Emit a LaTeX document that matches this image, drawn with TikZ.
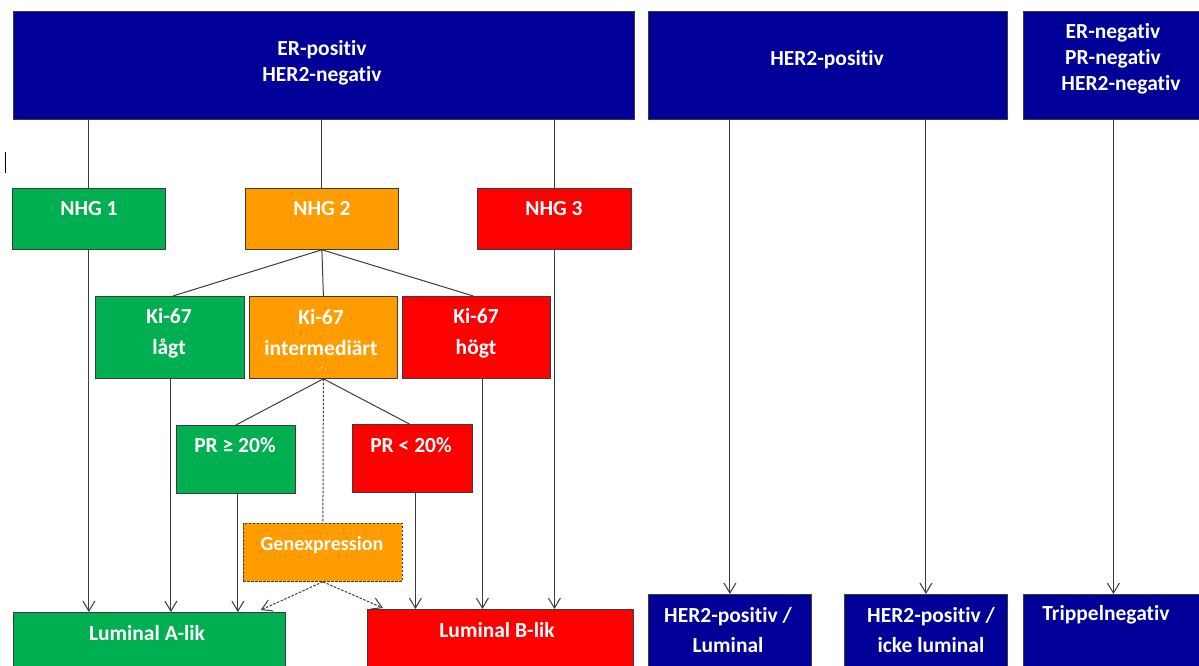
\documentclass[tikz,border=0pt]{standalone}
\usepackage{fontspec}
\setmainfont{Carlito}[Ligatures=NoCommon]
\usetikzlibrary{arrows.meta}
\definecolor{navy}{RGB}{0,0,153}
\definecolor{grn}{RGB}{0,176,80}
\definecolor{orng}{RGB}{255,156,0}
\definecolor{rd}{RGB}{255,0,0}
\definecolor{edge}{RGB}{60,60,60}
\begin{document}
\begin{tikzpicture}[x=1pt,y=-1pt,
  box/.style={draw=edge, line width=0.8pt, rectangle, inner sep=0pt, anchor=north west},
  navybox/.style={box, fill=navy},
  grnbox/.style={box, fill=grn},
  orngbox/.style={box, fill=orng},
  rdbox/.style={box, fill=rd},
  txt/.style={text=white, font=\bfseries\fontsize{21.5}{26}\selectfont, align=center, inner sep=0pt},
  kitxt/.style={txt, font=\bfseries\fontsize{21.5}{31}\selectfont},
  bottxt/.style={txt, font=\bfseries\fontsize{21.5}{30}\selectfont},
  link/.style={draw=edge, line width=1pt},
  arr/.style={link, -{Straight Barb[length=10pt,width=12pt]}},
  dlink/.style={link, dash pattern=on 2.5pt off 1.5pt}]
\useasboundingbox (0,0) rectangle (1199,666);
\clip (0,0) rectangle (1199,666);
\fill[white] (0,0) rectangle (1199,666);

% top boxes
\node[navybox, minimum width=621pt, minimum height=108pt] (top1) at (13,11) {};
\node[navybox, minimum width=359pt, minimum height=108pt] (top2) at (648,11) {};
\node[navybox, minimum width=180pt, minimum height=108pt] (top3) at (1023,11) {};

% NHG
\node[grnbox, minimum width=153pt, minimum height=61pt] (nhg1) at (12,188) {};
\node[orngbox, minimum width=153pt, minimum height=61pt] (nhg2) at (245,188) {};
\node[rdbox, minimum width=154pt, minimum height=61pt] (nhg3) at (477,188) {};

% Ki-67
\node[grnbox, minimum width=149pt, minimum height=82pt] (kilow) at (95,296) {};
\node[orngbox, minimum width=148pt, minimum height=82pt] (kimid) at (249,296) {};
\node[rdbox, minimum width=148pt, minimum height=82pt] (kihigh) at (402,296) {};

% PR
\node[grnbox, minimum width=119pt, minimum height=68pt] (prhi) at (176,425) {};
\node[rdbox, minimum width=120pt, minimum height=68pt] (prlo) at (352,424) {};

% Genexpression
\node[orngbox, dash pattern=on 2.5pt off 1.5pt, minimum width=159pt, minimum height=58pt] (gen) at (243,523) {};

% bottom
\node[grnbox, minimum width=272pt, minimum height=80pt] (luma) at (13,612) {};
\node[rdbox, minimum width=266pt, minimum height=80pt] (lumb) at (367,609) {};
\node[navybox, minimum width=163pt, minimum height=80pt] (h2lum) at (648,594) {};
\node[navybox, minimum width=163pt, minimum height=80pt] (h2non) at (844,594) {};
\node[navybox, minimum width=180pt, minimum height=80pt] (trip) at (1023,594) {};

% texts
\node[txt] (t-top1) at (322,63) {ER-positiv\\HER2-negativ};
\node[txt] (t-top2) at (827,60) {HER2-positiv};
\node[txt] (t-top3) at (1113,59) {ER-negativ\\PR-negativ\\\hspace*{16pt}HER2-negativ};
\node[txt] (t-nhg1) at (89,209) {NHG 1};
\node[txt] (t-nhg2) at (322,209) {NHG 2};
\node[txt] (t-nhg3) at (554,209) {NHG 3};
\node[kitxt] (t-kilow) at (169,333) {Ki-67\\lågt};
\node[kitxt] (t-kimid) at (321,333) {Ki-67\\intermediärt};
\node[text=white, font=\bfseries\fontsize{8}{8}\selectfont, inner sep=0pt] (t-dots) at (322,369) {.\,-\,.};
\node[kitxt] (t-kihigh) at (476,333) {Ki-67\\högt};
\node[txt] (t-prhi) at (235,445) {PR ≥ 20\%};
\node[txt] (t-prlo) at (411,445) {PR < 20\%};
\node[txt, font=\bfseries\fontsize{20}{24}\selectfont] (t-gen) at (322,545) {Genexpression};
\node[txt] (t-luma) at (147,633) {Luminal A-lik};
\node[txt] (t-lumb) at (497,630) {Luminal B-lik};
\node[bottxt] (t-h2lum) at (728,630) {HER2-positiv /\\Luminal};
\node[bottxt] (t-h2non) at (931,630) {HER2-positiv /\\icke luminal};
\node[txt] (t-trip) at (1106,615) {Trippelnegativ};

% stray tick
\draw[line width=1pt] (5,152) -- (5,173);

% connectors
\draw[link] (nhg1.north |- top1.south) -- (nhg1.north);
\draw[link] (nhg2.north |- top1.south) -- (nhg2.north);
\draw[link] (nhg3.north |- top1.south) -- (nhg3.north);
\draw[arr] (nhg1.south) -- (nhg1.south |- luma.north);
\draw[arr] (nhg3.south) -- (nhg3.south |- lumb.north);
\draw[link] (nhg2.south) -- ([xshift=3pt]kilow.north);
\draw[link] (nhg2.south) -- (kimid.north);
\draw[link] (nhg2.south) -- ([xshift=-3pt]kihigh.north);
\draw[arr] ([xshift=1pt]kilow.south) -- ([xshift=1pt]kilow.south |- luma.north);
\draw[arr] ([xshift=6pt]kihigh.south) -- ([xshift=6pt]kihigh.south |- lumb.north);
\draw[link] (kimid.south) -- (prhi.north);
\draw[link] (kimid.south) -- ([xshift=-3pt]prlo.north);
\draw[dlink] (kimid.south) -- (gen.north);
\draw[arr] ([xshift=2pt]prhi.south) -- ([xshift=2pt]prhi.south |- luma.north);
\draw[arr] ([xshift=3pt]prlo.south) -- ([xshift=3pt]prlo.south |- lumb.north);
\draw[dlink, -{Straight Barb[length=10pt,width=12pt]}] (gen.south) -- ([xshift=-25pt,yshift=2pt]luma.north east);
\draw[dlink, -{Straight Barb[length=10pt,width=12pt]}] (gen.south) -- ([xshift=16pt,yshift=1pt]lumb.north west);
\draw[arr] (h2lum.north |- top2.south) -- (h2lum.north);
\draw[arr] (h2non.north |- top2.south) -- (h2non.north);
\draw[arr] (trip.north |- top3.south) -- (trip.north);
\end{tikzpicture}
\end{document}
